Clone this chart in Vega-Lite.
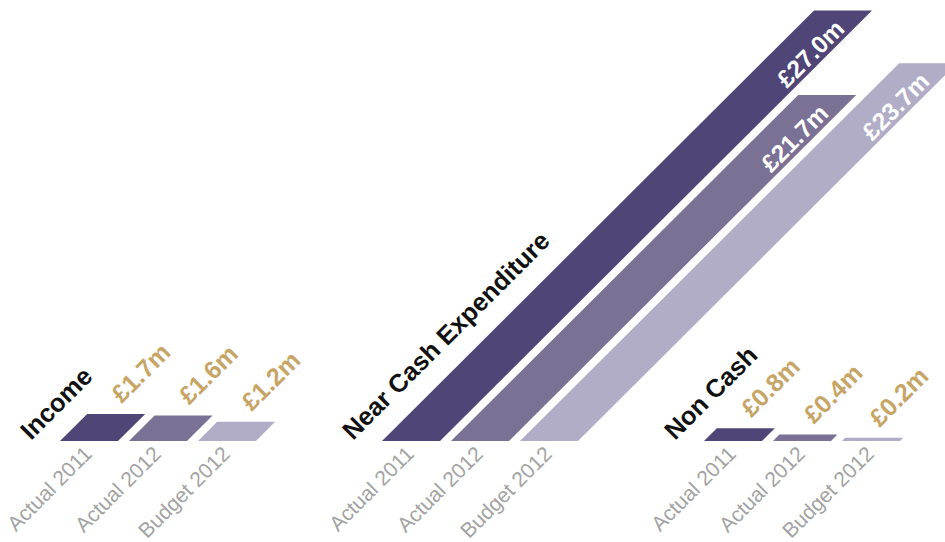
{
  "$schema": "https://vega.github.io/schema/vega-lite/v6.json",
  "width": 945,
  "height": 542,
  "autosize": {"type": "fit", "contains": "padding"},
  "padding": 0,
  "background": "white",
  "config": {"view": {"stroke": null}, "font": "Liberation Sans"},
  "data": {
    "values": [
      {"group": "Income", "series": "Actual 2011", "value": 1.7},
      {"group": "Income", "series": "Actual 2012", "value": 1.6},
      {"group": "Income", "series": "Budget 2012", "value": 1.2},
      {"group": "Near Cash Expenditure", "series": "Actual 2011", "value": 27.0},
      {"group": "Near Cash Expenditure", "series": "Actual 2012", "value": 21.7},
      {"group": "Near Cash Expenditure", "series": "Budget 2012", "value": 23.7},
      {"group": "Non Cash", "series": "Actual 2011", "value": 0.8},
      {"group": "Non Cash", "series": "Actual 2012", "value": 0.4},
      {"group": "Non Cash", "series": "Budget 2012", "value": 0.2}
    ]
  },
  "transform": [
    {"calculate": "indexof(['Income','Near Cash Expenditure','Non Cash'], datum.group)", "as": "gi"},
    {"calculate": "indexof(['Actual 2011','Actual 2012','Budget 2012'], datum.series)", "as": "si"},
    {"calculate": "3.75 + datum.gi * 20.125 + datum.si * 4.3125", "as": "base"},
    {"calculate": "'£' + format(datum.value, '.1f') + 'm'", "as": "label"}
  ],
  "layer": [
    {
      "transform": [
        {"calculate": "[0, datum.value]", "as": "lv"},
        {"flatten": ["lv"]},
        {"calculate": "datum.base + datum.lv", "as": "xl"},
        {"calculate": "datum.xl + 3.625", "as": "xr"}
      ],
      "mark": {"type": "area", "orient": "horizontal", "clip": true, "opacity": 1},
      "encoding": {
        "y": {"field": "lv", "type": "quantitative", "scale": {"domain": [-6.21, 27.66], "nice": false, "zero": false}, "axis": null},
        "x": {"field": "xl", "type": "quantitative", "stack": null, "scale": {"domain": [0, 59.0625], "nice": false, "zero": false}, "axis": null},
        "x2": {"field": "xr"},
        "color": {
          "field": "series", "type": "nominal",
          "scale": {"domain": ["Actual 2011", "Actual 2012", "Budget 2012"], "range": ["#4F4577", "#7B7195", "#B1ADC6"]},
          "legend": null
        },
        "detail": {"field": "group"}
      }
    },
    {
      "transform": [{"calculate": "datum.base + 1.8125", "as": "xc"}],
      "mark": {"type": "text", "align": "right", "baseline": "alphabetic", "angle": 315, "dx": -7, "dy": 13, "fontSize": 21, "color": "#A3A3A3"},
      "encoding": {
        "x": {"field": "xc", "type": "quantitative", "scale": {"domain": [0, 59.0625], "nice": false, "zero": false}, "axis": null},
        "y": {"datum": 0, "type": "quantitative", "scale": {"domain": [-6.21, 27.66], "nice": false, "zero": false}, "axis": null},
        "text": {"field": "series"}
      }
    },
    {
      "transform": [
        {"filter": "datum.group !== 'Near Cash Expenditure'"},
        {"calculate": "datum.base + datum.value + 1.8125", "as": "xt"}
      ],
      "mark": {"type": "text", "align": "left", "baseline": "alphabetic", "angle": 315, "dx": 11, "dy": -3, "fontSize": 25, "fontWeight": "bold", "color": "#C6A566"},
      "encoding": {
        "x": {"field": "xt", "type": "quantitative", "scale": {"domain": [0, 59.0625], "nice": false, "zero": false}, "axis": null},
        "y": {"field": "value", "type": "quantitative", "scale": {"domain": [-6.21, 27.66], "nice": false, "zero": false}, "axis": null},
        "text": {"field": "label"}
      }
    },
    {
      "transform": [
        {"filter": "datum.group === 'Near Cash Expenditure'"},
        {"calculate": "datum.base + datum.value + 1.8125", "as": "xt"}
      ],
      "mark": {"type": "text", "align": "right", "baseline": "alphabetic", "angle": 315, "dx": -12, "dy": 16, "fontSize": 24.5, "fontWeight": "bold", "color": "white"},
      "encoding": {
        "x": {"field": "xt", "type": "quantitative", "scale": {"domain": [0, 59.0625], "nice": false, "zero": false}, "axis": null},
        "y": {"field": "value", "type": "quantitative", "scale": {"domain": [-6.21, 27.66], "nice": false, "zero": false}, "axis": null},
        "text": {"field": "label"}
      }
    },
    {
      "transform": [
        {"filter": "datum.si === 0"},
        {"calculate": "datum.base - 1.82", "as": "xg"}
      ],
      "mark": {"type": "text", "align": "left", "baseline": "alphabetic", "angle": 315, "fontSize": 25.5, "fontWeight": "bold", "color": "#111111"},
      "encoding": {
        "x": {"field": "xg", "type": "quantitative", "scale": {"domain": [0, 59.0625], "nice": false, "zero": false}, "axis": null},
        "y": {"datum": 0, "type": "quantitative", "scale": {"domain": [-6.21, 27.66], "nice": false, "zero": false}, "axis": null},
        "text": {"field": "group"}
      }
    }
  ]
}
